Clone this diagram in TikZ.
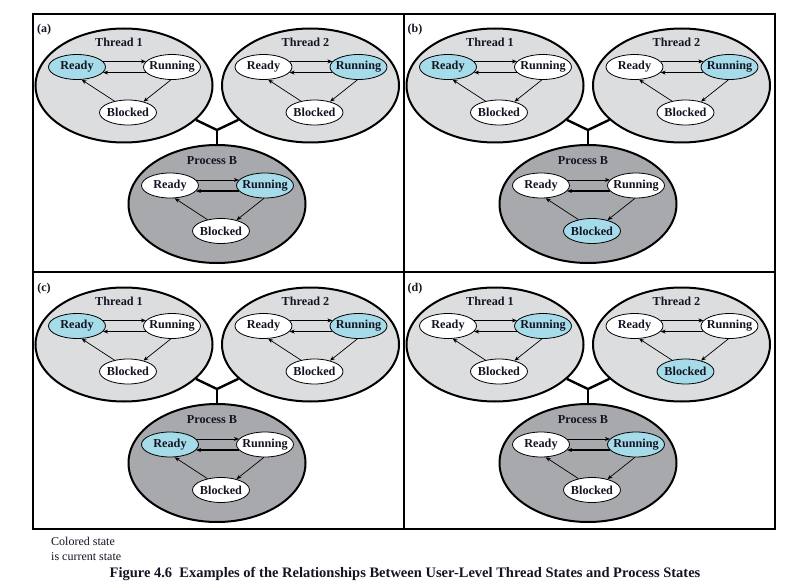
\documentclass[tikz,border=0pt]{standalone}
\usepackage{fontspec}
\setmainfont{Liberation Serif}
\usetikzlibrary{shapes.geometric,arrows.meta}
\definecolor{thrgray}{RGB}{220,221,223}
\definecolor{procgray}{RGB}{167,169,172}
\definecolor{curcyan}{RGB}{166,220,233}
\definecolor{inkcol}{RGB}{20,20,35}
\newcommand\sttxt[1]{\makebox[0pt]{#1}}
\tikzset{
  x=1pt, y=-1pt,
  every node/.style={text=inkcol},
  thrgrp/.style={ellipse, draw=black, line width=2pt, fill=thrgray, minimum width=177pt, minimum height=114pt, inner sep=0pt},
  procgrp/.style={ellipse, draw=black, line width=2pt, fill=procgray, minimum width=177pt, minimum height=118pt, inner sep=0pt},
  grptitle/.style={font=\fontsize{12.2}{14}\selectfont\bfseries, inner sep=0pt},
  state/.style={ellipse, draw=black, line width=0.8pt, fill=white, minimum width=57pt, minimum height=25pt, inner sep=0pt, font=\fontsize{12.2}{14}\selectfont\bfseries},
  c-r-r/.style={fill=curcyan}, c-u-u/.style={fill=curcyan}, c-b-b/.style={fill=curcyan},
  c-r-u/.style={}, c-r-b/.style={}, c-u-r/.style={}, c-u-b/.style={}, c-b-r/.style={}, c-b-u/.style={},
  arr/.style={draw=black, line width=0.7pt, -{Stealth[length=5pt,width=4pt]}},
  arrthick/.style={draw=black, line width=1.3pt, -{Stealth[length=5pt,width=4pt]}},
  yconn/.style={draw=black, line width=2.4pt},
  frame/.style={draw=black, line width=1.3pt},
  plabel/.style={font=\fontsize{12}{14}\selectfont\bfseries, inner sep=0pt},
}
% #1 name, #2 x, #3 y, #4 group style, #5 title, #6 current state letter
\newcommand\stgroup[6]{%
  \node[#4] (#1) at (#2,#3) {};
  \node[grptitle] (#1t) at ({#2-5},{#3-43}) {#5};
  \node[state,c-r-#6] (#1r) at ({#2-47},{#3-18.5}) {\sttxt{Ready}};
  \node[state,c-u-#6] (#1u) at ({#2+48},{#3-18.5}) {\sttxt{Running}};
  \node[state,c-b-#6] (#1b) at ({#2+4},{#3+27}) {\sttxt{Blocked}};
  \draw[arr] (#1r.12) -- (#1u.168);
  \draw[arrthick] (#1u.192) -- (#1r.348);
  \draw[arr] (#1u.265) -- (#1b.35);
  \draw[arr] (#1b.140) -- (#1r.290);
}
% #1 prefix, #2 dx, #3 dy, #4 label, #5 T1 cur, #6 T2 cur, #7 P cur
\newcommand\panel[7]{%
  \begin{scope}[shift={(#2,#3)}]
    \node[plabel] (#1lab) at (44,30) {(#4)};
    \stgroup{#1ta}{124}{85.5}{thrgrp}{Thread 1}{#5}
    \stgroup{#1tb}{310.5}{85.5}{thrgrp}{Thread 2}{#6}
    \stgroup{#1pp}{217}{204}{procgrp}{Process B}{#7}
    \coordinate (#1j) at (217,130);
    \draw[yconn] (#1ta) -- (#1j) -- (#1tb);
    \draw[yconn] (#1j) -- (#1pp);
  \end{scope}}
\begin{document}
\begin{tikzpicture}
\useasboundingbox (0,0) rectangle (796,583);
\fill[white] (0,0) rectangle (796,583);
\coordinate (ftl) at (33,14);
\coordinate (fbr) at (775,529);
\coordinate (vt) at (404,14);
\coordinate (vb) at (404,529);
\coordinate (hl) at (33,272);
\coordinate (hr) at (775,272);
\draw[frame] (ftl) rectangle (fbr);
\draw[frame] (vt) -- (vb);
\draw[frame] (hl) -- (hr);
\panel{a}{0}{0}{a}{r}{u}{u}
\panel{b}{371}{0}{b}{r}{u}{b}
\panel{c}{0}{259}{c}{r}{u}{r}
\panel{d}{371}{259}{d}{u}{b}{u}
\node[anchor=west, font=\fontsize{12}{14}\selectfont, inner sep=0pt] (leg1) at (51,541) {Colored state};
\node[anchor=west, font=\fontsize{12}{14}\selectfont, inner sep=0pt] (leg2) at (51,557) {is current state};
\node[font=\fontsize{14.5}{17}\selectfont\bfseries, inner sep=0pt] (cap) at (405,574) {Figure 4.6\ \ Examples of the Relationships Between User-Level Thread States and Process States};
\end{tikzpicture}
\end{document}
